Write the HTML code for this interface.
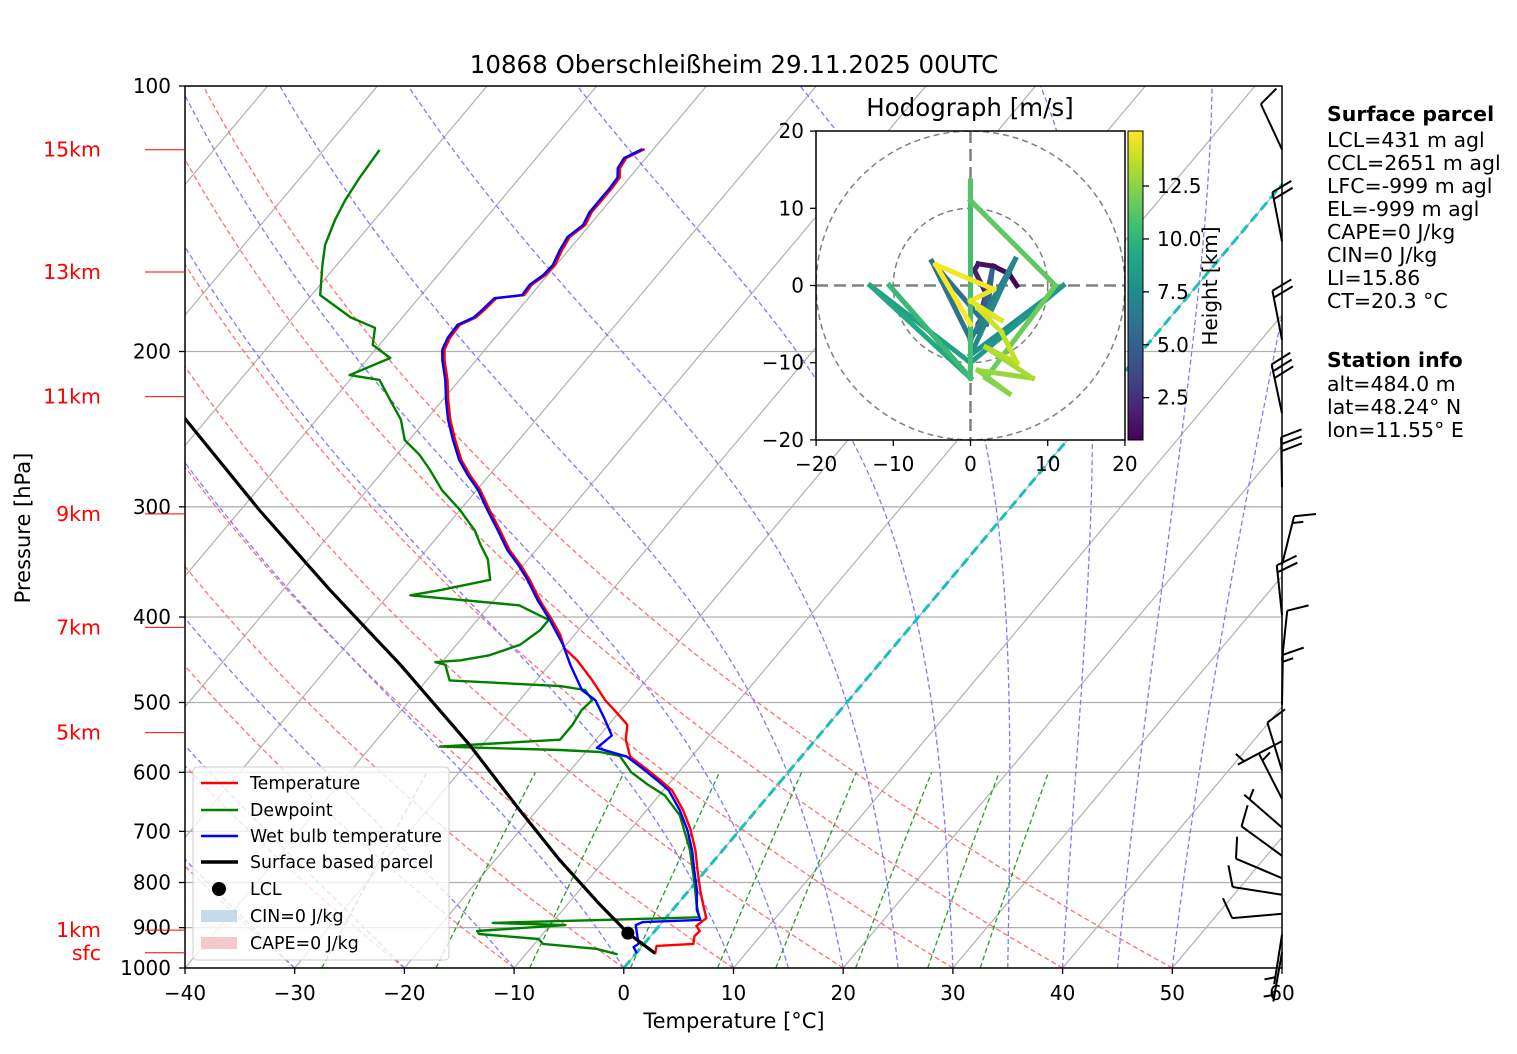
<!DOCTYPE html>
<html><head><meta charset="utf-8">
<style>
html,body{margin:0;padding:0;background:#fff;}
svg{display:block;font-family:"DejaVu Sans","Liberation Sans",sans-serif;}
</style></head>
<body>
<svg id="chart" xmlns="http://www.w3.org/2000/svg" width="1517" height="1054" viewBox="0 0 1517 1054">
<defs>
<clipPath id="plotclip"><rect x="185" y="86" width="1097" height="882"/></clipPath>
<clipPath id="hodoclip"><rect x="816" y="131" width="309" height="309"/></clipPath>
<linearGradient id="viridis" x1="0" y1="1" x2="0" y2="0">
<stop offset="0" stop-color="#440154"/><stop offset="0.1" stop-color="#482475"/><stop offset="0.2" stop-color="#414487"/><stop offset="0.3" stop-color="#355f8d"/><stop offset="0.4" stop-color="#2a788e"/><stop offset="0.5" stop-color="#21918c"/><stop offset="0.6" stop-color="#22a884"/><stop offset="0.7" stop-color="#44bf70"/><stop offset="0.8" stop-color="#7ad151"/><stop offset="0.9" stop-color="#bddf26"/><stop offset="1" stop-color="#fde725"/>
</linearGradient>
</defs>
<rect x="0" y="0" width="1517" height="1054" fill="#fff"/>
<text x="734" y="73" font-size="24.5" text-anchor="middle">10868 Oberschleißheim 29.11.2025 00UTC</text>
<g id="bg" clip-path="url(#plotclip)"></g>
<g id="series" clip-path="url(#plotclip)"></g>
<g id="axes"></g>
<g id="barbs"></g>
<g id="hodo"></g>
<g id="legend">
<rect x="193" y="767" width="256" height="193" rx="4" fill="#fff" fill-opacity="0.8" stroke="#ccc" stroke-width="1"/>
<g><line x1="201" y1="783" x2="238" y2="783" stroke="red" stroke-width="2.5"/><text x="250" y="789" font-size="17.4">Temperature</text></g>
<g><line x1="201" y1="810" x2="238" y2="810" stroke="green" stroke-width="2.5"/><text x="250" y="816" font-size="17.4">Dewpoint</text></g>
<g><line x1="201" y1="836" x2="238" y2="836" stroke="blue" stroke-width="2.5"/><text x="250" y="842" font-size="17.4">Wet bulb temperature</text></g>
<g><line x1="201" y1="862" x2="238" y2="862" stroke="#000" stroke-width="3.5"/><text x="250" y="868" font-size="17.4">Surface based parcel</text></g>
<g><circle cx="219" cy="889" r="7" fill="#000"/><text x="250" y="895" font-size="17.4">LCL</text></g>
<g><rect x="201" y="910" width="36" height="12" fill="#c6dbea"/><text x="250" y="922" font-size="17.4">CIN=0 J/kg</text></g>
<g><rect x="201" y="937" width="36" height="12" fill="#f5c9cc"/><text x="250" y="949" font-size="17.4">CAPE=0 J/kg</text></g>
</g>
<g font-size="20.5">
<text x="1327" y="121" font-weight="bold">Surface parcel</text>
<text x="1327" y="147">LCL=431 m agl</text>
<text x="1327" y="170">CCL=2651 m agl</text>
<text x="1327" y="193">LFC=-999 m agl</text>
<text x="1327" y="216">EL=-999 m agl</text>
<text x="1327" y="239">CAPE=0 J/kg</text>
<text x="1327" y="262">CIN=0 J/kg</text>
<text x="1327" y="285">LI=15.86</text>
<text x="1327" y="308">CT=20.3 °C</text>
<text x="1327" y="367" font-weight="bold">Station info</text>
<text x="1327" y="391">alt=484.0 m</text>
<text x="1327" y="414">lat=48.24° N</text>
<text x="1327" y="437">lon=11.55° E</text>
</g>
</svg>
<script>
// ---- sounding data ----
const tempP=[965,944,939,920,908,896,878,848,816,774,735,697,662,629,612,593,576,551,530,516,497,471,448,434,419,403,383,363,349,336,319,302.5,287,276,265.5,252,239,227,215.4,204.5,199,193,186.6,183,179.5,174,172.6,168,163.8,159.6,153.5,148.3,143.8,139,134.6,130.5,127,123.9,120.7,117.9];
const tempT=[1.8,1.3,4.5,4.0,4.1,3.4,3.7,2.4,1.0,-0.8,-2.5,-4.5,-6.7,-9.2,-11.1,-13.4,-15.6,-17.3,-18.3,-19.9,-22.2,-25.0,-27.8,-29.9,-31.3,-33.2,-35.8,-38.3,-40.3,-42.4,-44.8,-47.3,-49.7,-51.8,-53.7,-55.8,-57.8,-59.5,-61.1,-62.9,-63.7,-64.1,-64.2,-63.3,-63.1,-62.9,-60.6,-60.7,-60.2,-60.1,-60.6,-60.9,-60.4,-60.8,-60.8,-60.8,-60.9,-61.6,-61.8,-60.8];
const dewP=[965,951,939,927,915,908,894,889,876,848,805,735,671,637,620,600,575,569,566,561,551,530,510,497,484,479,472,453,450,448,442,430,414,403,388,378,373,363,344,331,319,302.5,287,272.5,262,252,239,227,215.4,212.7,203.4,196.6,188,183,172.6,159.6,151.4,141.9,134.6,127,118.2];
const dewT=[-1.6,-4.0,-9.2,-10.0,-15.8,-16.2,-8.6,-15.4,3.0,1.8,0.1,-3.0,-6.6,-9.5,-11.8,-14.3,-16.6,-18.7,-22.5,-33.7,-23.3,-23.3,-23.6,-23.4,-24.8,-27.4,-37.9,-39.5,-40.6,-38.5,-36.2,-34.2,-33.5,-33.5,-37.3,-48.0,-45.7,-41.9,-43.7,-45.5,-47.1,-50.0,-53.2,-55.8,-57.9,-60.4,-62.3,-64.8,-67.3,-70.4,-68.0,-70.6,-71.7,-74.7,-79.2,-81.3,-82.6,-83.6,-84.2,-84.6,-84.9];
const wetP=[962,947,939,894,887,882,859,816,774,735,697,662,629,612,593,576,563,545,521,497,484,453,430,403,383,363,349,336,319,302.5,287,276,265.5,252,239,227,215.4,204.5,199,193,186.6,183,179.5,174,172.6,168,163.8,159.6,153.5,148.3,143.8,139,134.6,130.5,127,123.9,120.7,117.9];
const wetT=[0.05,-0.7,-0.5,-2.2,-1.8,3.3,2.2,0.7,-1.1,-2.8,-4.8,-7.0,-9.5,-11.4,-13.7,-15.9,-19.3,-18.9,-20.9,-23.1,-25.1,-28.1,-30.3,-33.4,-36.0,-38.5,-40.5,-42.6,-45.0,-47.5,-49.9,-52.0,-53.9,-56.0,-58.0,-59.7,-61.3,-63.1,-63.9,-64.3,-64.4,-63.5,-63.3,-63.1,-60.8,-60.9,-60.4,-60.3,-60.8,-61.1,-60.6,-61.0,-61.0,-61.0,-61.1,-61.8,-62.0,-61.0];
const parcelP=[962,913,848,754.6,662,559,453,373,302.5,239,200];
const parcelT=[1.7,-2.3,-7.0,-14.1,-21.6,-31.1,-43.6,-55.7,-68.3,-81.9,-92];
const lclP=[913];
const lclT=[-2.3];
// ---- axis tick data ----
const pressureTicks=[100,200,300,400,500,600,700,800,900,1000];
const tempTicks=[-40,-30,-20,-10,0,10,20,30,40,50,60];
const heightLabels=["15km","13km","11km","9km","7km","5km","1km","sfc"];
const heightLabelP=[118.1,162.5,225,305.6,411,541,906,961];
// ---- wind barbs ----
const barbP=[118,150,194,235,285,349,398,448,503,553,597,643,693,746,791,826,868,917,960];
const barbDir=[335,349,349,348,359,14,354,6,1,242,343,333,311,306,293,279,265,189,190];
const barbSpd=[10,20,20,30,30,15,20,10,15,5,10,5,5,10,10,10,10,5,5];
// ---- hodograph ----
const hodoU=[6,5,3,1,0.5,2,1.5,2,1,2.5,1,2.8,2,-5,0,5.8,0,12,0,-13,0,-10.5,0,0,0,11,2,5,1,8,2,6,4,1,4,0,3,-4.5,0];
const hodoV=[0,1.5,2.5,2.8,2,-1,-3,-5,-5,-2,-6,1.9,-5,3.1,-7,3.4,-9,0,-10,0,-12,0,-12,13.5,11,0,-12,-14,-11,-12,-8,-10,-6,-3,-4.5,-2,-0.5,2.7,-5];
const hodoH=[0.5,0.8,1.0,1.3,1.6,2.0,2.5,3.0,3.5,4.0,4.5,5.0,5.5,6.0,6.5,7.0,7.5,8.0,8.5,9.0,9.5,10.0,10.5,11.0,11.3,11.6,12.0,12.3,12.6,13.0,13.3,13.6,13.9,14.2,14.4,14.6,14.8,15.0,15.1];
const hodoTicks=[-20,-10,0,10,20];
const cbarTicks=[2.5,5.0,7.5,10.0,12.5];

const NS="http://www.w3.org/2000/svg";
const FS=20;
function yP(p){return 86+882*Math.log10(p/100);}
function xT(T,p){return 185+(T+40)*10.97+0.84*(968-yP(p));}
function mk(tag,attrs,parent){const e=document.createElementNS(NS,tag);for(const k in attrs)e.setAttribute(k,attrs[k]);parent.appendChild(e);return e;}
const bg=document.getElementById('bg'),ser=document.getElementById('series'),ax=document.getElementById('axes'),bb=document.getElementById('barbs'),hg=document.getElementById('hodo');

pressureTicks.forEach(p=>{const l=mk('line',{x1:185,x2:1282,y1:yP(p),y2:yP(p),stroke:'#b0b0b0','stroke-width':1.3},bg);

});
for(let T=-130;T<=60;T+=10){const l=mk('line',{x1:xT(T,1000),y1:968,x2:xT(T,100),y2:86,stroke:'#b0b0b0','stroke-width':1.2},bg);

}
function path(pts){return pts.map((q,i)=>(i?'L':'M')+q[0].toFixed(1)+','+q[1].toFixed(1)).join('');}
// dry adiabats
for(let t0=-40;t0<=50;t0+=10){const pts=[];for(let p=1000;p>=100;p-=10){const T=(t0+273.15)*Math.pow(p/1000,0.286)-273.15;pts.push([xT(T,p),yP(p)]);}
const e=mk('path',{d:path(pts),fill:'none',stroke:'#ff7070','stroke-width':1.3,'stroke-dasharray':'5,3'},bg);

}
// moist adiabats
function es(Tc){return 6.112*Math.exp(17.67*Tc/(Tc+243.5));}
[-40,-30,-20,-10,0,10,15,20,25,30,35,40,45,50].forEach(t0=>{let T=t0+273.15;const pts=[[xT(t0,1000),968]];for(let p=1000;p>100;p-=2){const e1=es(T-273.15);const rs=0.622*e1/(p-e1);const dTdp=(287*T+2.5e6*rs)/(1005+2.5e6*2.5e6*rs*0.622/(287*T*T))/p;T-=dTdp*2;pts.push([xT(T-273.15,p-2),yP(p-2)]);}
const e=mk('path',{d:path(pts),fill:'none',stroke:'#7b7bff','stroke-width':1.3,'stroke-dasharray':'5,3'},bg);

});
// mixing ratio lines
[0.0004,0.001,0.002,0.004,0.007,0.01,0.016,0.024,0.032].forEach(w=>{const pts=[];for(let p=1000;p>=600;p-=20){const e=w*p/(0.622+w);const a=Math.log(e/6.112);const Td=243.5*a/(17.67-a);pts.push([xT(Td,p),yP(p)]);}
const el=mk('path',{d:path(pts),fill:'none',stroke:'#2a9a2a','stroke-width':1.3,'stroke-dasharray':'5,3'},bg);

});
{const l=mk('line',{x1:xT(0,1000),y1:968,x2:xT(0,100),y2:86,stroke:'#17bfbf','stroke-width':3,'stroke-dasharray':'10,5'},bg);

}

function series(P,T,color,w,name){const pts=P.map((p,i)=>[xT(T[i],p),yP(p)]);const e=mk('path',{d:path(pts),fill:'none',stroke:color,'stroke-width':w,'stroke-linejoin':'round'},ser);

}
series(dewP,dewT,'green',2.4,'dewpoint-line');
series(tempP,tempT,'red',2.4,'temperature-line');
series(wetP,wetT,'blue',2.4,'wetbulb-line');
series(parcelP,parcelT,'#000',3.2,'parcel-line');
lclP.forEach((p,i)=>{const c=mk('circle',{cx:xT(lclT[i],p),cy:yP(p),r:6.5,fill:'#000'},ser);

});

{const r=mk('rect',{x:185,y:86,width:1097,height:882,fill:'none',stroke:'#000','stroke-width':1.5},ax);

}
pressureTicks.forEach(p=>{const y=yP(p);mk('line',{x1:179,x2:185,y1:y,y2:y,stroke:'#000','stroke-width':1.3},ax);
const t=mk('text',{x:171,y:y+7,'font-size':FS,'text-anchor':'end'},ax);t.textContent=p;

});
tempTicks.forEach(T=>{const x=185+(T+40)*10.97;mk('line',{x1:x,x2:x,y1:968,y2:974,stroke:'#000','stroke-width':1.3},ax);
const t=mk('text',{x:x,y:1000,'font-size':FS,'text-anchor':'middle'},ax);t.textContent=(T<0?'\u2212'+(-T):T);

});
{const t=mk('text',{x:734,y:1028,'font-size':21,'text-anchor':'middle'},ax);t.textContent='Temperature [°C]';

}
{const t=mk('text',{x:30,y:528,'font-size':21,'text-anchor':'middle',transform:'rotate(-90 30 528)'},ax);t.textContent='Pressure [hPa]';

}
heightLabels.forEach((s,i)=>{const y=yP(heightLabelP[i]);mk('line',{x1:145,x2:185,y1:y,y2:y,stroke:'red','stroke-width':1},ax);
const t=mk('text',{x:101,y:y+7,'font-size':20.5,'text-anchor':'end',fill:'red'},ax);t.textContent=s;

});

barbP.forEach((p,i)=>{const bx=1282,by=yP(p);const d=barbDir[i]*Math.PI/180;const ux=Math.sin(d),uy=-Math.cos(d);const L=50;
const tx=bx+ux*L,ty=by+uy*L;const g=mk('g',{stroke:'#000','stroke-width':2,fill:'none'},bb);


mk('line',{x1:bx,y1:by,x2:tx,y2:ty},g);
const a=Math.atan2(uy,ux)+70*Math.PI/180;const bxv=Math.cos(a),byv=Math.sin(a);
let full=Math.floor(barbSpd[i]/10),half=(barbSpd[i]%10)>=5?1:0;let k=0;
for(let f=0;f<full;f++){const sx=tx-ux*7*k,sy=ty-uy*7*k;mk('line',{x1:sx,y1:sy,x2:sx+bxv*22,y2:sy+byv*22},g);k++;}
if(half){if(k===0)k=1;const sx=tx-ux*7*k,sy=ty-uy*7*k;mk('line',{x1:sx,y1:sy,x2:sx+bxv*11,y2:sy+byv*11},g);}
});

const HX=970.5,HY=285.5,HS=7.72;
function hx(u){return HX+u*HS;} function hy(v){return HY-v*HS;}
{const r=mk('rect',{x:816,y:131,width:309,height:309,fill:'#fff'},hg);

}
const hc=mk('g',{'clip-path':'url(#hodoclip)'},hg);
[10,20].forEach(r=>{const c=mk('circle',{cx:HX,cy:HY,r:r*HS,fill:'none',stroke:'#808080','stroke-width':1.5,'stroke-dasharray':'6,4'},hc);

});
mk('line',{x1:816,x2:1125,y1:HY,y2:HY,stroke:'#808080','stroke-width':2.5,'stroke-dasharray':'12,6'},hc);
mk('line',{x1:HX,x2:HX,y1:131,y2:440,stroke:'#808080','stroke-width':2.5,'stroke-dasharray':'12,6'},hc);
const vir=[[68,1,84],[72,36,117],[65,68,135],[53,95,141],[42,120,142],[33,145,140],[34,168,132],[68,191,112],[122,209,81],[189,223,38],[253,231,37]];
function vcol(h){let t=(h-0.5)/(15.1-0.5);t=Math.max(0,Math.min(1,t))*10;const i=Math.min(9,Math.floor(t)),f=t-i;const c=vir[i].map((v,j)=>Math.round(v+(vir[i+1][j]-v)*f));return 'rgb('+c.join(',')+')';}
for(let i=0;i<hodoU.length-1;i++){const l=mk('line',{x1:hx(hodoU[i]),y1:hy(hodoV[i]),x2:hx(hodoU[i+1]),y2:hy(hodoV[i+1]),stroke:vcol((hodoH[i]+hodoH[i+1])/2),'stroke-width':5,'stroke-linecap':'square'},hc);

}
{const r=mk('rect',{x:816,y:131,width:309,height:309,fill:'none',stroke:'#000','stroke-width':1.5},hg);

}
hodoTicks.forEach(v=>{const x=hx(v),y=hy(v);mk('line',{x1:x,x2:x,y1:440,y2:446,stroke:'#000','stroke-width':1.3},hg);mk('line',{x1:810,x2:816,y1:y,y2:y,stroke:'#000','stroke-width':1.3},hg);
const s=(v<0?'\u2212'+(-v):''+v);
const t1=mk('text',{x:x,y:471,'font-size':FS,'text-anchor':'middle'},hg);t1.textContent=s;


const t2=mk('text',{x:804,y:y+7,'font-size':FS,'text-anchor':'end'},hg);t2.textContent=s;

});
{const t=mk('text',{x:970,y:116,'font-size':24.5,'text-anchor':'middle'},hg);t.textContent='Hodograph [m/s]';

}
{const r=mk('rect',{x:1128,y:131,width:15,height:309,fill:'url(#viridis)',stroke:'#000','stroke-width':1},hg);

}
function cy(h){return 440-(h-0.5)/(15.1-0.5)*309;}
cbarTicks.forEach(h=>{const y=cy(h);mk('line',{x1:1143,x2:1149,y1:y,y2:y,stroke:'#000','stroke-width':1.3},hg);
const t=mk('text',{x:1157,y:y+7,'font-size':FS},hg);t.textContent=h.toFixed(1);

});
{const t=mk('text',{x:1217,y:286,'font-size':20,'text-anchor':'middle',transform:'rotate(-90 1217 286)'},hg);t.textContent='Height [km]';

}
</script>
</body></html>
